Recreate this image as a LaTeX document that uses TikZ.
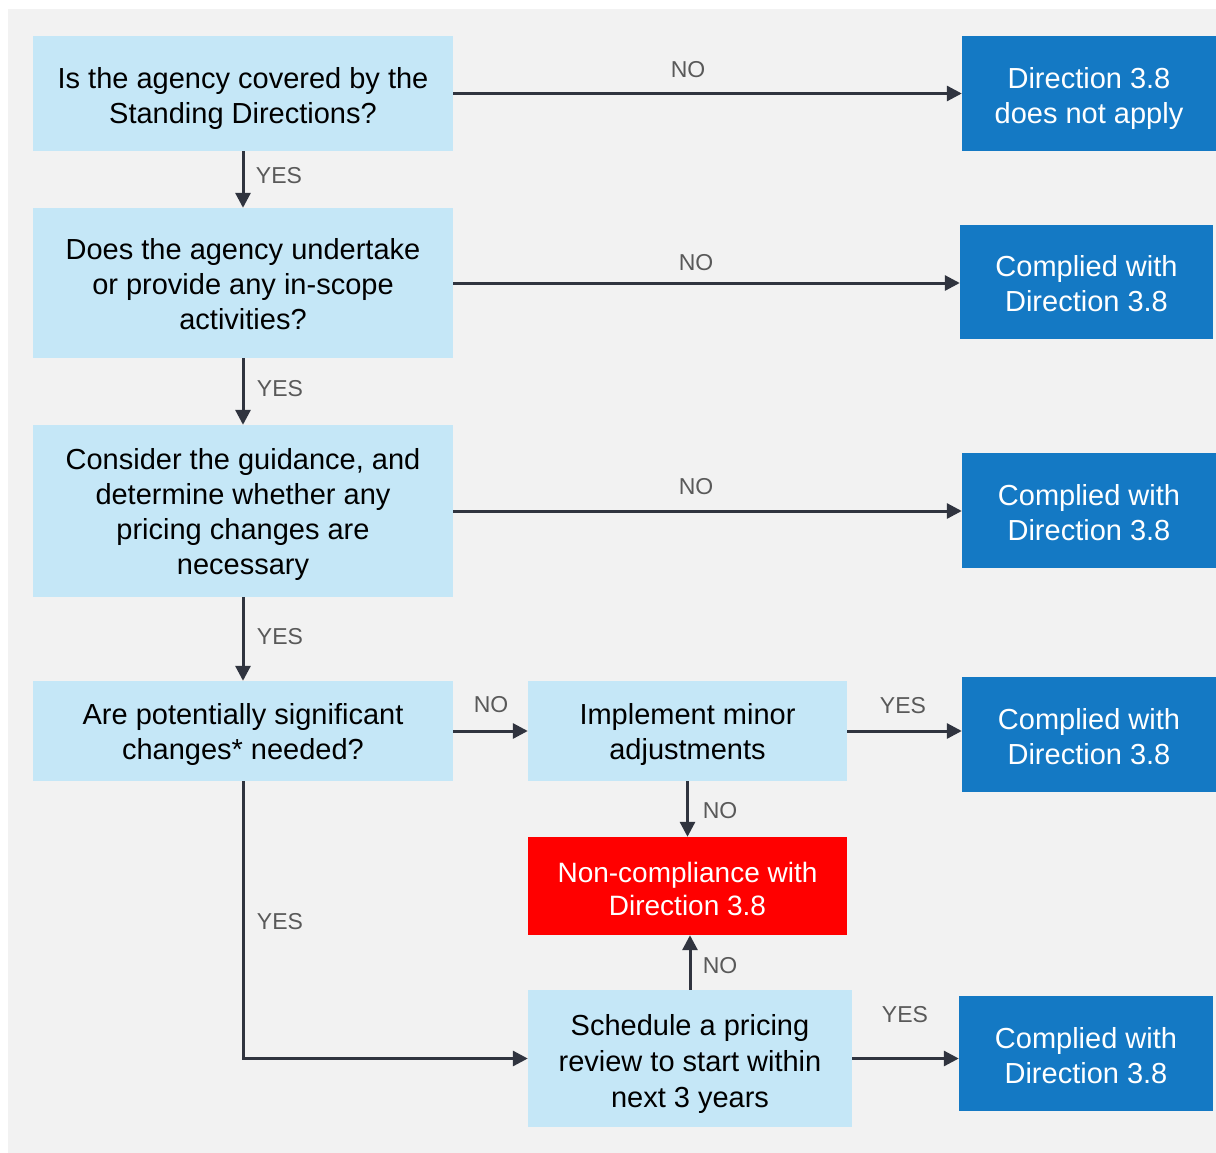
\documentclass[tikz,border=0pt]{standalone}
\usepackage{fontspec}
\setmainfont{Liberation Sans}
\usetikzlibrary{arrows.meta}
\definecolor{bggray}{HTML}{F2F2F2}
\definecolor{lightblue}{HTML}{C5E7F7}
\definecolor{darkblue}{HTML}{1479C4}
\definecolor{arrowcol}{HTML}{30343F}
\definecolor{labelcol}{HTML}{595959}
\newcommand{\mlines}[2][3pt]{\raisebox{-#1}[\height][\depth]{\begin{tabular}{@{}c@{}}#2\end{tabular}}}
\tikzset{
  qbox/.style={fill=lightblue, text=black, inner sep=0pt, font=\fontsize{29}{35}\selectfont},
  outbox/.style={fill=darkblue, text=white, inner sep=0pt, font=\fontsize{29}{35}\selectfont},
  badbox/.style={fill=red, text=white, inner sep=0pt, font=\fontsize{28}{33}\selectfont},
  lbl/.style={text=labelcol, inner sep=0pt, font=\fontsize{23}{26}\selectfont},
  conn/.style={draw=arrowcol, line width=3pt, -{Triangle[length=15pt,width=15pt]}},
}
\begin{document}
\begin{tikzpicture}[x=1pt,y=-1pt]
\useasboundingbox (0,0) rectangle (1216,1153);
\fill[bggray] (8,9) rectangle (1216,1153);

\node[qbox, minimum width=420pt, minimum height=115pt] (a1) at (243,93.5) {\mlines[6pt]{Is the agency covered by the\\Standing Directions?}};
\node[outbox, minimum width=254pt, minimum height=115pt] (r1) at (1089,93.5) {\mlines[6pt]{Direction 3.8\\does not apply}};
\node[qbox, minimum width=420pt, minimum height=150pt] (a2) at (243,283) {\mlines[4.5pt]{Does the agency undertake\\or provide any in-scope\\activities?}};
\node[outbox, minimum width=253pt, minimum height=114pt] (r2) at (1086.5,282) {\mlines[5pt]{Complied with\\Direction 3.8}};
\node[qbox, minimum width=420pt, minimum height=172pt] (a3) at (243,511) {\mlines[4pt]{Consider the guidance, and\\determine whether any\\pricing changes are\\necessary}};
\node[outbox, minimum width=254pt, minimum height=115pt] (r3) at (1089,510.5) {\mlines[5pt]{Complied with\\Direction 3.8}};
\node[qbox, minimum width=420pt, minimum height=100pt] (a4) at (243,731) {\mlines[4pt]{Are potentially significant\\changes* needed?}};
\node[qbox, minimum width=319pt, minimum height=100pt] (m) at (687.5,731) {\mlines[4pt]{Implement minor\\adjustments}};
\node[outbox, minimum width=254pt, minimum height=115pt] (r4) at (1089,734.5) {\mlines[5pt]{Complied with\\Direction 3.8}};
\node[badbox, minimum width=319pt, minimum height=98pt] (bad) at (687.5,886) {\mlines[6pt]{Non-compliance with\\Direction 3.8}};
\node[qbox, minimum width=324pt, minimum height=137pt, font=\fontsize{29}{36}\selectfont] (s) at (690,1058.5) {\mlines[5.5pt]{Schedule a pricing\\review to start within\\next 3 years}};
\node[outbox, minimum width=254pt, minimum height=115pt] (r5) at (1086,1053.5) {\mlines[5pt]{Complied with\\Direction 3.8}};

\draw[conn] (a1.east) -- (r1.west);
\draw[conn] (a2.east) -- (a2.east -| r2.west);
\draw[conn] (a3.east) -- (a3.east -| r3.west);
\draw[conn] (a4.east) -- (m.west);
\draw[conn] (m.east) -- (m.east -| r4.west);
\draw[conn] (m.south) -- (bad.north);
\draw[conn] (s.north) -- (s.north |- bad.south);
\draw[conn] (s.east) -- (s.east -| r5.west);
\draw[conn] (a1.south) -- (a2.north);
\draw[conn] (a2.south) -- (a3.north);
\draw[conn] (a3.south) -- (a4.north);
\draw[conn] (a4.south) |- (s.west);

\node[lbl] (l1) at (688,70) {NO};
\node[lbl] (l2) at (696,263) {NO};
\node[lbl] (l3) at (696,487) {NO};
\node[lbl] (l4) at (491,705) {NO};
\node[lbl] (l5) at (720,811) {NO};
\node[lbl] (l6) at (720,966) {NO};
\node[lbl] (l7) at (903,706) {YES};
\node[lbl] (l8) at (905,1015) {YES};
\node[lbl] (y1) at (279,176) {YES};
\node[lbl] (y2) at (280,389) {YES};
\node[lbl] (y3) at (280,637) {YES};
\node[lbl] (y4) at (280,922) {YES};
\end{tikzpicture}
\end{document}
